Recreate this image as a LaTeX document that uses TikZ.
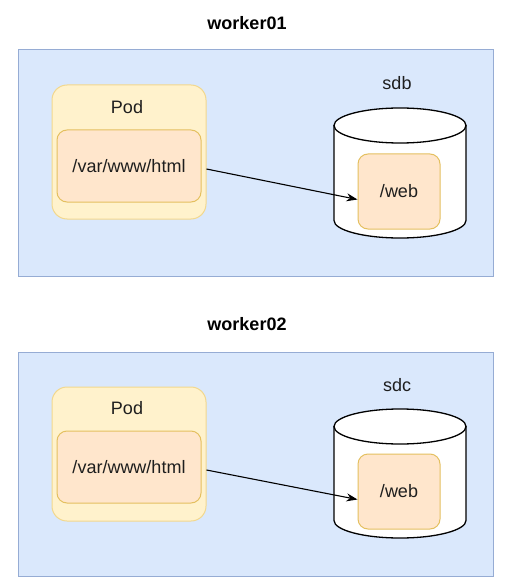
\documentclass[tikz,border=0pt]{standalone}
\usepackage{fontspec}
\setmainfont{Liberation Sans}
\usepackage{xcolor}
\usetikzlibrary{arrows.meta}
\usetikzlibrary{calc}

\definecolor{nodeblue}{RGB}{218,232,252}
\definecolor{nodeblueline}{RGB}{150,172,212}
\definecolor{podfill}{RGB}{255,242,204}
\definecolor{podline}{RGB}{242,216,142}
\definecolor{dirfill}{RGB}{255,230,204}
\definecolor{dirline}{RGB}{228,192,96}
\definecolor{txt}{RGB}{30,30,30}

\tikzset{
    worker/.style={draw=nodeblueline, fill=nodeblue, line width=1pt},
    podbox/.style={draw=podline, fill=podfill, rounded corners=15pt, line width=1pt},
    dirbox/.style={draw=dirline, fill=dirfill, rounded corners=10pt, line width=1pt,
        text=txt},
    disk/.style={draw=black, fill=white, line width=1.3pt},
    lbl/.style={text=txt},
    mount/.style={line width=1.1pt, -{Stealth[length=11pt, width=8pt]}}
}

\begin{document}
\begin{tikzpicture}[x=1pt, y=-1pt, font=\fontsize{18}{21}\selectfont]
    \useasboundingbox (0, 0) rectangle (504, 585);
% worker01
\node[font=\fontsize{18}{21}\selectfont\bfseries] (w1) at (247, 23) {worker01};
\node[worker, minimum width=475pt, minimum height=226pt] (host1) at (255.5, 163) {};
\node[podbox, minimum width=154pt, minimum height=134pt] (pod1) at (129, 152) {};
\node[lbl] (podlbl1) at (127, 107) {Pod};
\node[dirbox, minimum width=144pt, minimum height=72pt] (html1) at (129, 166) {/var/www/html};
\draw[disk] (334, 125.5) -- (334, 220.5) arc[start angle=180, end angle=0, x radius=66, y radius=17.5] -- (466, 125.5) -- cycle;
\draw[disk] (400, 125.5) ellipse [x radius=66, y radius=17.5];
\node[lbl] (sdb) at (397, 83) {sdb};
\node[dirbox, minimum width=82pt, minimum height=75pt] (web1) at (399, 191.5) {/web};
\draw[mount] ([xshift=5pt, yshift=-3pt]html1.east) -- ([yshift=-8pt]web1.west);
% worker02
\node[font=\fontsize{18}{21}\selectfont\bfseries] (w2) at (247, 324) {worker02};
\node[worker, minimum width=475pt, minimum height=224pt] (host2) at (255.5, 464) {};
\node[podbox, minimum width=154pt, minimum height=134pt] (pod2) at (129, 454) {};
\node[lbl] (podlbl2) at (127, 408) {Pod};
\node[dirbox, minimum width=144pt, minimum height=72pt] (html2) at (129, 467) {/var/www/html};
\draw[disk] (334, 426.5) -- (334, 520.5) arc[start angle=180, end angle=0, x radius=66, y radius=17.5] -- (466, 426.5) -- cycle;
\draw[disk] (400, 426.5) ellipse [x radius=66, y radius=17.5];
\node[lbl] (sdc) at (397, 385) {sdc};
\node[dirbox, minimum width=82pt, minimum height=75pt] (web2) at (399, 491.5) {/web};
\draw[mount] ([xshift=5pt, yshift=-3pt]html2.east) -- ([yshift=-8pt]web2.west);
\end{tikzpicture}
\end{document}
